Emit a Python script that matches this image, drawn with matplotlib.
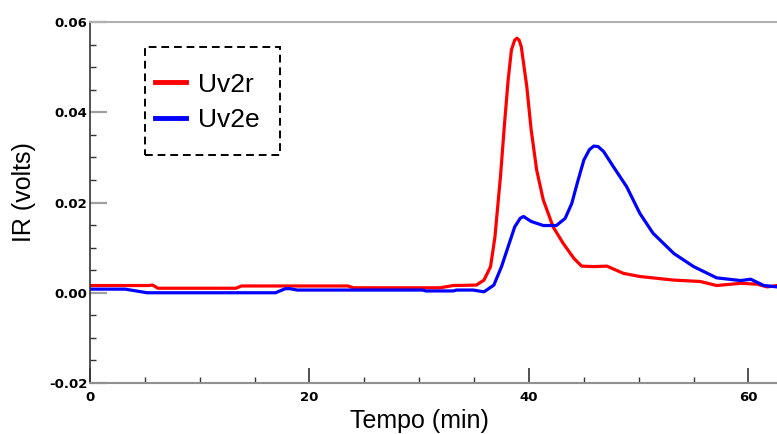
import matplotlib
matplotlib.use("Agg")
import matplotlib.pyplot as plt
from matplotlib.patches import Rectangle
from matplotlib.lines import Line2D
from matplotlib.ticker import MultipleLocator

# Chromatogram traces: retention time (min) and IR detector signal (volts)
t_uv2r = [0, 5.3, 5.7, 6.2, 13.3, 13.8, 23.5, 24.0, 31.9, 33.1, 35.2, 35.9,
          36.5, 36.9, 37.4, 37.8, 38.1, 38.4, 38.7, 38.9, 39.1, 39.3, 39.8,
          40.2, 40.7, 41.3, 42.2, 43.1, 44.1, 44.8, 45.9, 47.1, 48.6, 50.1,
          53.2, 55.6, 57.1, 59.3, 60.8, 61.7, 62.6]
ir_uv2r = [0.0016, 0.0016, 0.0017, 0.0010, 0.0010, 0.0015, 0.0015, 0.0011,
           0.0011, 0.0016, 0.0017, 0.0028, 0.0058, 0.0124, 0.0257, 0.0383,
           0.0471, 0.0538, 0.0560, 0.0564, 0.0560, 0.0545, 0.0457, 0.0361,
           0.0272, 0.0206, 0.0146, 0.0110, 0.0076, 0.0059, 0.0058, 0.0059,
           0.0043, 0.0036, 0.0028, 0.0025, 0.0016, 0.0021, 0.0019, 0.0013,
           0.0016]

t_uv2e = [0, 3.2, 5.2, 16.9, 17.8, 18.2, 18.9, 30.3, 30.6, 33.1, 33.4, 34.9,
          35.9, 36.8, 37.5, 38.1, 38.7, 39.2, 39.5, 40.2, 41.3, 42.5, 43.3,
          43.9, 44.4, 45.0, 45.5, 45.9, 46.3, 46.8, 47.7, 48.9, 50.1, 51.3,
          53.2, 55.0, 57.1, 59.3, 60.2, 61.4, 62.6]
ir_uv2e = [0.0008, 0.0008, 0.0000, 0.0000, 0.0009, 0.0009, 0.0006, 0.0006,
           0.0004, 0.0004, 0.0006, 0.0006, 0.0002, 0.0017, 0.0058, 0.0102,
           0.0146, 0.0165, 0.0169, 0.0158, 0.0149, 0.0149, 0.0165, 0.0198,
           0.0243, 0.0294, 0.0317, 0.0325, 0.0324, 0.0313, 0.0279, 0.0235,
           0.0176, 0.0132, 0.0087, 0.0058, 0.0033, 0.0027, 0.0030, 0.0016,
           0.0013]

series_labels = ["Uv2r", "Uv2e"]
series_colors = ["#ff0000", "#0000ff"]

x_ticks = [0, 20, 40, 60]
y_ticks = [-0.02, 0.00, 0.02, 0.04, 0.06]
y_tick_labels = ["-0.02", "0.00", "0.02", "0.04", "0.06"]

plt.rcParams["font.family"] = ["Liberation Sans", "DejaVu Sans"]

fig = plt.figure(figsize=(7.77, 4.34), dpi=100)
ax = fig.add_axes([90 / 777, 51 / 434, 687 / 777, 361 / 434])

ax.plot(t_uv2r, ir_uv2r, color=series_colors[0], lw=2.3, solid_joinstyle="round")
ax.plot(t_uv2e, ir_uv2e, color=series_colors[1], lw=2.3, solid_joinstyle="round")

ax.set_xlim(0, 62.6)
ax.set_ylim(-0.02, 0.06)

ax.set_xticks(x_ticks)
ax.set_xticklabels([str(v) for v in x_ticks])
ax.set_yticks(y_ticks)
ax.set_yticklabels(y_tick_labels)
ax.xaxis.set_minor_locator(MultipleLocator(5))
ax.yaxis.set_minor_locator(MultipleLocator(0.005))

tick_font = dict(family="DejaVu Sans", weight="bold", size=9.5)
for lab in ax.get_xticklabels() + ax.get_yticklabels():
    lab.set_fontproperties(tick_font)

ax.tick_params(axis="x", which="major", direction="in", length=11, width=1.2,
               color="#333333", pad=6)
ax.tick_params(axis="x", which="minor", direction="in", length=4.5, width=1,
               color="#333333")
ax.tick_params(axis="y", which="major", direction="in", length=12.5, width=1.6,
               color="#a0a0a0", pad=2)
ax.tick_params(axis="y", which="minor", direction="in", length=4.5, width=1,
               color="#333333")

ax.spines["right"].set_visible(False)
ax.spines["left"].set_color("#333333")
ax.spines["left"].set_linewidth(1.2)
ax.spines["bottom"].set_color("#909090")
ax.spines["bottom"].set_linewidth(1.5)
ax.spines["top"].set_color("#b0b0b0")
ax.spines["top"].set_linewidth(1.5)

ax.set_xlabel("Tempo (min)", fontsize=18)
ax.set_ylabel("IR (volts)", fontsize=18)
ax.xaxis.set_label_coords(0.479, -0.072)
ax.yaxis.set_label_coords(-0.078, 0.53)

# Dashed legend box with line swatches
ax.add_patch(Rectangle((0.080, 0.632), 0.1966, 0.299, transform=ax.transAxes,
                       fill=False, edgecolor="black", linestyle=(0, (4, 2.5)),
                       linewidth=1.4, zorder=5))
handles = [Line2D([], [], color=c, lw=3.5) for c in series_colors]
leg = ax.legend(handles, series_labels, loc="upper left",
                bbox_to_anchor=(0.094, 0.860), frameon=False, fontsize=19,
                handlelength=1.2, handletextpad=0.45, labelspacing=0.45,
                borderpad=0, borderaxespad=0)

fig.savefig("out.png", dpi=100, facecolor="white")
